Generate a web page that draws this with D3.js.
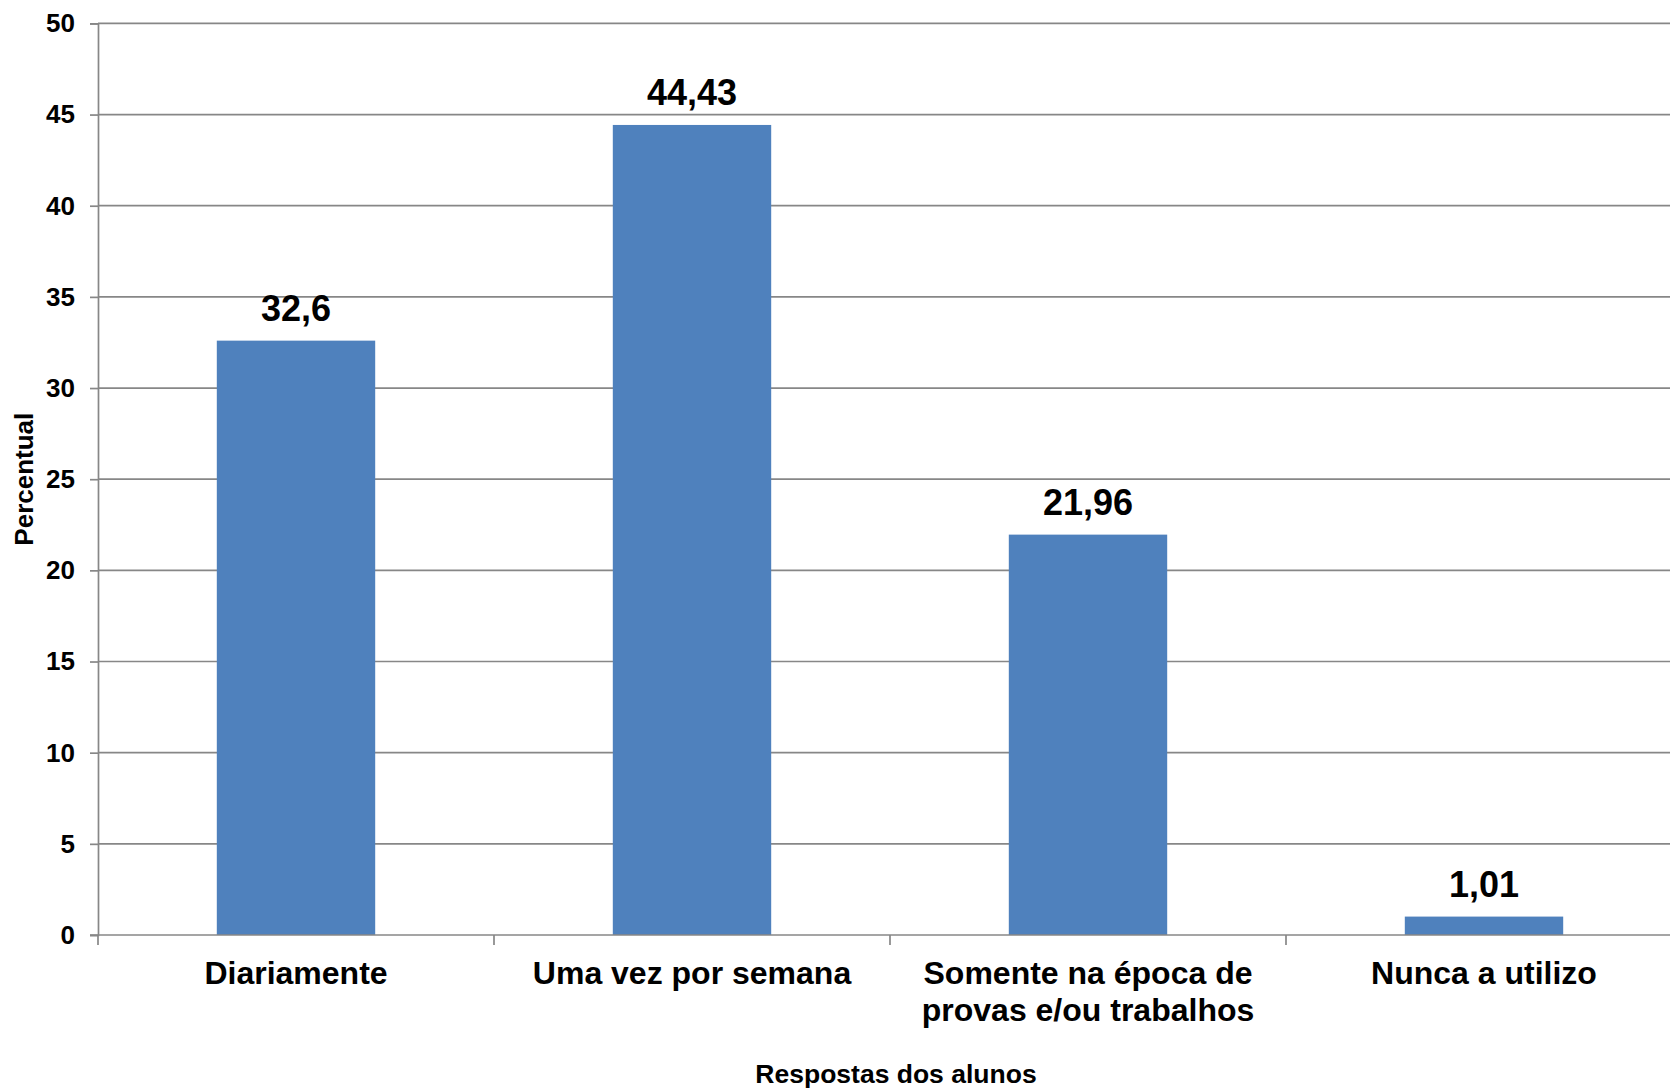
<!DOCTYPE html>
<html lang="pt">
    <head>
        <meta charset="utf-8">
        <title>Respostas dos alunos</title>
        <script type="text/javascript" src="https://d3js.org/d3.v7.min.js"></script>
        <style type="text/css">
            body { margin: 0; background: #ffffff; }
            svg { display: block; font-family: "Liberation Sans", Arial, sans-serif; font-weight: bold; }
        </style>
    </head>
    <body>
        <script type="text/javascript">

        // data
        const categories = ["Diariamente", "Uma vez por semana", "Somente na época de provas e/ou trabalhos", "Nunca a utilizo"];
        const values = [32.6, 44.43, 21.96, 1.01];
        const valueLabels = ["32,6", "44,43", "21,96", "1,01"];
        const yTicks = [0, 5, 10, 15, 20, 25, 30, 35, 40, 45, 50];

        const width = 1670;
        const height = 1088;
        const plotLeft = 98, plotRight = 1682, plotTop = 23.4, plotBottom = 935;

        const xScale = d3.scaleBand()
                        .domain(categories)
                        .range([plotLeft, plotRight])
                        .padding(0);

        const yScale = d3.scaleLinear()
                        .domain([0, 50])
                        .range([plotBottom, plotTop]);

        const barW = xScale.bandwidth() * 0.4;

        const svg = d3.select("body")
                    .append("svg")
                    .attr("width", width)
                    .attr("height", height);

        // gridlines
        svg.append("g")
            .selectAll("line")
            .data(yTicks.filter(d => d > 0))
            .enter()
            .append("line")
            .attr("x1", plotLeft)
            .attr("x2", plotRight)
            .attr("y1", d => yScale(d))
            .attr("y2", d => yScale(d))
            .attr("stroke", "#878787")
            .attr("stroke-width", 1.7);

        // bars
        svg.selectAll("rect")
            .data(values)
            .enter()
            .append("rect")
            .attr("x", (d, i) => xScale(categories[i]) + (xScale.bandwidth() - barW) / 2)
            .attr("y", d => yScale(d))
            .attr("width", barW)
            .attr("height", d => plotBottom - yScale(d))
            .attr("fill", "#4f81bd");

        // value labels
        svg.append("g")
            .selectAll("text")
            .data(values)
            .enter()
            .append("text")
            .attr("x", (d, i) => xScale(categories[i]) + xScale.bandwidth() / 2)
            .attr("y", d => yScale(d) - 20)
            .attr("text-anchor", "middle")
            .style("font-size", "36px")
            .style("fill", "#000")
            .text((d, i) => valueLabels[i]);

        // left axis
        const leftAxis = d3.axisLeft(yScale)
                        .tickValues(yTicks)
                        .tickSize(8)
                        .tickPadding(15)
                        .tickFormat(d3.format("d"));

        const gy = svg.append("g")
            .attr("transform", "translate(" + plotLeft + ",0)")
            .call(leftAxis);
        gy.select(".domain").attr("stroke", "#878787").attr("stroke-width", 1.7);
        gy.selectAll(".tick line").attr("stroke", "#878787").attr("stroke-width", 1.7);
        gy.selectAll(".tick text")
            .style("font-size", "26px")
            .style("font-family", "\"Liberation Sans\", Arial, sans-serif")
            .style("font-weight", "bold")
            .attr("fill", "#000");

        // bottom axis line and boundary ticks
        svg.append("line")
            .attr("x1", plotLeft - 8)
            .attr("x2", plotRight)
            .attr("y1", plotBottom)
            .attr("y2", plotBottom)
            .attr("stroke", "#878787")
            .attr("stroke-width", 1.7);

        svg.append("g")
            .selectAll("line")
            .data(categories)
            .enter()
            .append("line")
            .attr("x1", d => xScale(d))
            .attr("x2", d => xScale(d))
            .attr("y1", plotBottom)
            .attr("y2", plotBottom + 10)
            .attr("stroke", "#878787")
            .attr("stroke-width", 1.7);

        // category labels (wrapped)
        const catText = svg.append("g")
            .selectAll("text")
            .data(categories)
            .enter()
            .append("text")
            .attr("text-anchor", "middle")
            .style("font-size", "32px")
            .style("fill", "#000");

        catText.each(function(d) {
            const t = d3.select(this);
            const cx = xScale(d) + xScale.bandwidth() / 2;
            const words = d.split(" ");
            let line = [];
            let lineNo = 0;
            let tspan = t.append("tspan").attr("x", cx).attr("y", 984);
            words.forEach(w => {
                line.push(w);
                tspan.text(line.join(" "));
                if (tspan.node().getComputedTextLength() > 370 && line.length > 1) {
                    line.pop();
                    tspan.text(line.join(" "));
                    line = [w];
                    lineNo++;
                    tspan = t.append("tspan").attr("x", cx).attr("y", 984 + lineNo * 37).text(w);
                }
            });
        });

        // axis titles
        svg.append("text")
            .attr("x", (plotLeft + plotRight) / 2 + 6)
            .attr("y", 1083)
            .attr("text-anchor", "middle")
            .style("font-size", "26.5px")
            .style("fill", "#000")
            .text("Respostas dos alunos");

        svg.append("text")
            .attr("transform", "translate(33," + ((plotTop + plotBottom) / 2) + ") rotate(-90)")
            .attr("text-anchor", "middle")
            .style("font-size", "26px")
            .style("fill", "#000")
            .text("Percentual");

        </script>
    </body>
</html>
